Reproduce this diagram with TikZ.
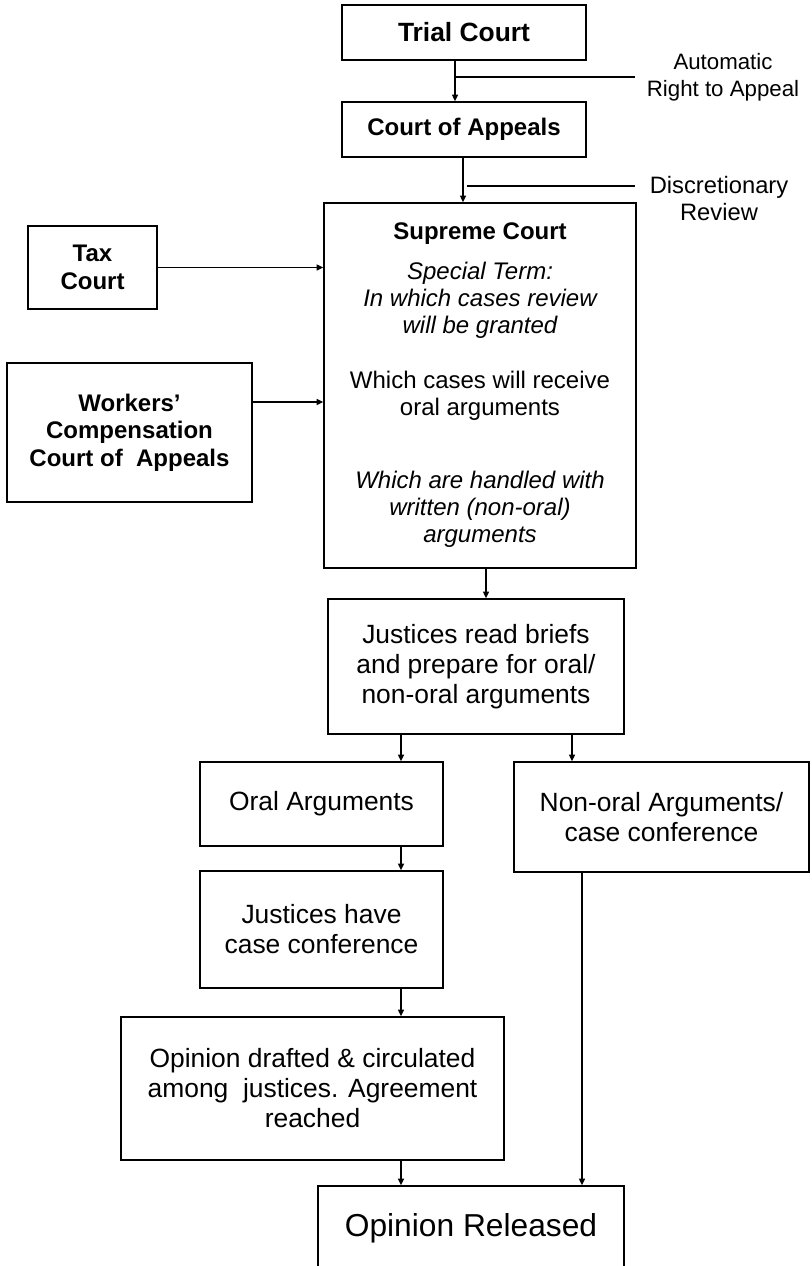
\documentclass[tikz,border=0pt]{standalone}
\usepackage{fontspec}
\setmainfont{Liberation Sans}
\usetikzlibrary{arrows.meta}

\newcommand{\headfont}{\fontsize{18}{20.5}\selectfont\bfseries}
\newcommand{\bodyfont}{\fontsize{19.8}{22.5}\selectfont}
\newcommand{\termfont}{\fontsize{18}{20.25}\selectfont}
\newcommand{\autofont}{\fontsize{16.7}{20}\selectfont}
\newcommand{\discfont}{\fontsize{17.8}{20.25}\selectfont}

\begin{document}
\begin{tikzpicture}[x=0.75pt, y=-0.75pt,
    box/.style={draw, line width=1.2pt, inner sep=2pt, align=center},
    arr/.style={line width=1.1pt, -{Triangle[length=5pt,width=4.5pt]}}]
        \useasboundingbox (0,0) rectangle (811,1266);
        \clip (0,0) rectangle (811,1266);

        % Lower courts and the supreme court
        \node[box, minimum width=183pt, minimum height=41.25pt, font=\fontsize{19.8}{22}\selectfont\bfseries] (trial) at (464,32.5) {Trial Court};
        \node[box, minimum width=183pt, minimum height=41.25pt, font=\headfont] (appeals) at (464,129.5) {Court of Appeals};
        \node[box, minimum width=234pt, minimum height=273.75pt, font=\termfont] (supreme) at (480,385.5) {%
            {\bfseries Supreme Court}\\[9.75pt]
            {\itshape Special Term:}\\
            {\itshape In which cases review}\\
            {\itshape will be granted}\\[21pt]
            Which cases will receive\\
            oral arguments\\[34.5pt]
            {\itshape Which are handled with}\\
            {\itshape written (non-oral)}\\
            {\itshape arguments}};
        \node[box, minimum width=96.75pt, minimum height=62.25pt, font=\headfont] (tax) at (92.5,267.5) {Tax\\Court};
        \node[box, minimum width=183.75pt, minimum height=104.25pt, font=\headfont] (workers) at (129.5,432.5) {Workers’\\Compensation\\Court of~~Appeals};

        % Side notes
        \node[align=center, font=\autofont, inner xsep=9pt, inner ysep=0pt] (auto) at (723,77) {Automatic\\Right to Appeal};
        \node[align=center, font=\discfont] (disc) at (719,198.5) {Discretionary\\Review};

        % Steps after review is granted
        \node[box, minimum width=222pt, minimum height=101.25pt, font=\bodyfont] (briefs) at (476,666.5) {Justices read briefs\\and prepare for oral/\\non-oral arguments};
        \node[box, minimum width=182.25pt, minimum height=63pt, font=\bodyfont] (oral) at (321.5,804) {Oral Arguments};
        \node[box, minimum width=221.25pt, minimum height=82.5pt, font=\bodyfont] (nonoral) at (661.5,817) {Non-oral Arguments/\\case conference};
        \node[box, minimum width=182.25pt, minimum height=87.75pt, font=\bodyfont] (conf) at (321.5,929.5) {Justices have\\case conference};
        \node[box, minimum width=287.25pt, minimum height=107.25pt, font=\bodyfont] (draft) at (312.5,1088.5) {Opinion drafted \& circulated\\among~~justices. Agreement\\reached};
        \node[box, minimum width=229.5pt, minimum height=63pt, font=\fontsize{23.8}{27}\selectfont] (released) at (471,1228) {Opinion Released};

        % Lanes for the arrows
        \coordinate (lnA) at (455,0);
        \coordinate (lnB) at (463,0);
        \coordinate (lnC) at (486,0);
        \coordinate (lnL) at (401,0);
        \coordinate (lnR) at (572,0);
        \coordinate (lnS) at (582,0);
        \coordinate (wk) at (0,402);
        \coordinate (discend) at (635,186);

        % Arrows
        \draw[arr] (trial.south -| lnA) -- (appeals.north -| lnA);
        \draw[line width=1.1pt] (auto.west -| lnA) -- (auto.west);
        \draw[arr] (appeals.south -| lnB) -- (supreme.north -| lnB);
        \draw[line width=1.1pt] (discend -| lnB) ++(4,0) -- (discend);
        \draw[arr] (tax.east) -- (tax.east -| supreme.west);
        \draw[arr] (wk -| workers.east) -- (wk -| supreme.west);
        \draw[arr] (supreme.south -| lnC) -- (briefs.north -| lnC);
        \draw[arr] (briefs.south -| lnL) -- (oral.north -| lnL);
        \draw[arr] (briefs.south -| lnR) -- (nonoral.north -| lnR);
        \draw[arr] (oral.south -| lnL) -- (conf.north -| lnL);
        \draw[arr] (conf.south -| lnL) -- (draft.north -| lnL);
        \draw[arr] (draft.south -| lnL) -- (released.north -| lnL);
        \draw[arr] (nonoral.south -| lnS) -- (released.north -| lnS);
\end{tikzpicture}
\end{document}
